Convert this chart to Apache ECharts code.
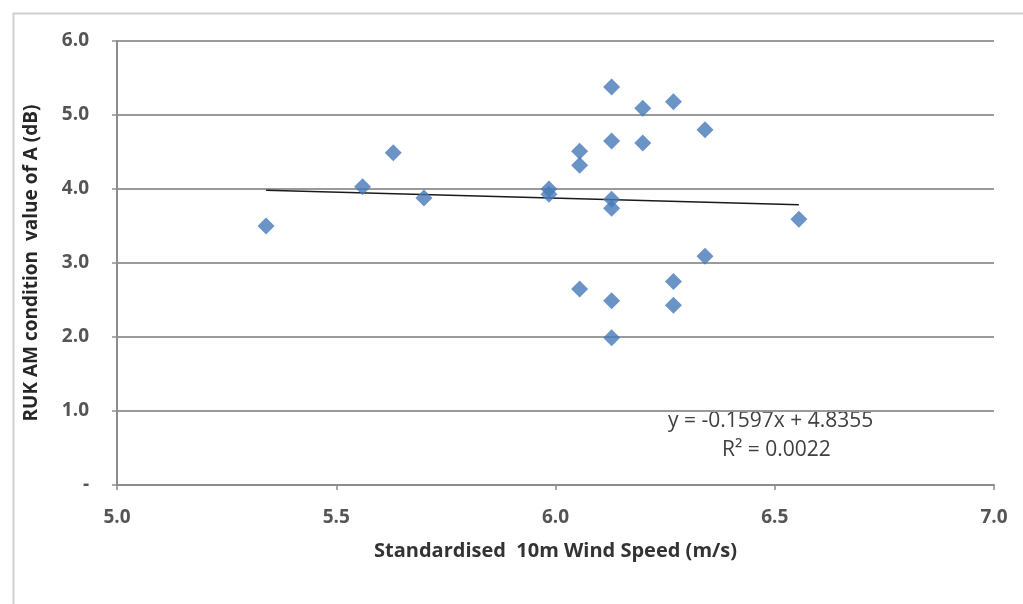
<!DOCTYPE html>
<html>
<head>
<meta charset="utf-8">
<script src="https://cdn.jsdelivr.net/npm/echarts@6/dist/echarts.min.js"></script>
<style>
html,body{margin:0;padding:0;background:#fff;}
#c{width:1023px;height:604px;}
</style>
</head>
<body>
<div id="c"></div>
<script>
const windSpeed = [5.34, 5.56, 5.63, 5.70, 5.985, 5.985, 6.055, 6.055, 6.055, 6.128, 6.128, 6.128, 6.128, 6.128, 6.128, 6.199, 6.199, 6.269, 6.269, 6.269, 6.341, 6.341, 6.555];
const valueA    = [3.50, 4.03, 4.49, 3.88, 4.00, 3.93, 4.51, 4.32, 2.65, 5.38, 4.65, 3.86, 3.74, 2.49, 1.99, 5.09, 4.62, 5.18, 2.75, 2.43, 4.80, 3.09, 3.59];
const trendSlope = -0.1597;
const trendIntercept = 4.8355;
const rSquared = 0.0022;
const yTickLabels = ['-', '1.0', '2.0', '3.0', '4.0', '5.0', '6.0'];
const xTickLabels = ['5.0', '5.5', '6.0', '6.5', '7.0'];

const points = windSpeed.map((x, i) => [x, valueA[i]]);
const xMin = Math.min(...windSpeed), xMax = Math.max(...windSpeed);
const trend = [[xMin, trendSlope * xMin + trendIntercept], [xMax, trendSlope * xMax + trendIntercept]];

const font = '"Open Sans", "Liberation Sans", sans-serif';
const chart = echarts.init(document.getElementById('c'));
chart.setOption({
  animation: false,
  backgroundColor: '#ffffff',
  grid: { left: 117, right: 29, top: 41, bottom: 119 },
  xAxis: {
    type: 'value', min: 5, max: 7, interval: 0.5,
    name: 'Standardised  10m Wind Speed (m/s)',
    nameLocation: 'middle', nameGap: 56,
    nameTextStyle: { fontFamily: font, fontSize: 20, fontWeight: 'bold', color: '#333333' },
    axisLine: { lineStyle: { color: '#8c8c8c', width: 2 } },
    axisTick: { show: true, length: 5, lineStyle: { color: '#8c8c8c', width: 1.5 } },
    axisLabel: { margin: 23, fontFamily: font, fontSize: 19, fontWeight: 'bold', color: '#555555',
      formatter: (v) => xTickLabels[Math.round((v - 5) / 0.5)] },
    splitLine: { show: false }
  },
  yAxis: {
    type: 'value', min: 0, max: 6, interval: 1,
    name: 'RUK AM condition  value of A (dB)',
    nameLocation: 'middle', nameGap: 76, nameRotate: 90,
    nameTextStyle: { fontFamily: font, fontSize: 19, fontWeight: 'bold', color: '#262626' },
    axisLine: { show: true, lineStyle: { color: '#8c8c8c', width: 2 } },
    axisTick: { show: true, length: 5, lineStyle: { color: '#8c8c8c', width: 1.5 } },
    axisLabel: { margin: 28, fontFamily: font, fontSize: 19, fontWeight: 'bold', color: '#555555',
      formatter: (v) => yTickLabels[Math.round(v)] },
    splitLine: { show: true, lineStyle: { color: '#9a9a9a', width: 2 } }
  },
  series: [
    {
      type: 'scatter', data: points, symbol: 'diamond', symbolSize: 17,
      itemStyle: { color: '#4679b8' }, z: 3
    },
    {
      type: 'line', data: trend, symbol: 'none',
      lineStyle: { color: '#1a1a1a', width: 1.5 }, z: 2
    }
  ],
  graphic: [
    { type: 'rect', left: 11, top: 11, shape: { width: 1030, height: 610 },
      style: { fill: 'none', stroke: '#cfcfcf', lineWidth: 2 }, silent: true },
    { type: 'text', left: 668, top: 411,
      style: { text: 'y = ' + trendSlope.toFixed(4) + 'x + ' + trendIntercept.toFixed(4),
        font: '21px ' + font, fill: '#404040' } },
    { type: 'text', left: 722, top: 440,
      style: { text: 'R² = ' + rSquared.toFixed(4), font: '21px ' + font, fill: '#404040' } }
  ]
});
</script>
</body>
</html>
